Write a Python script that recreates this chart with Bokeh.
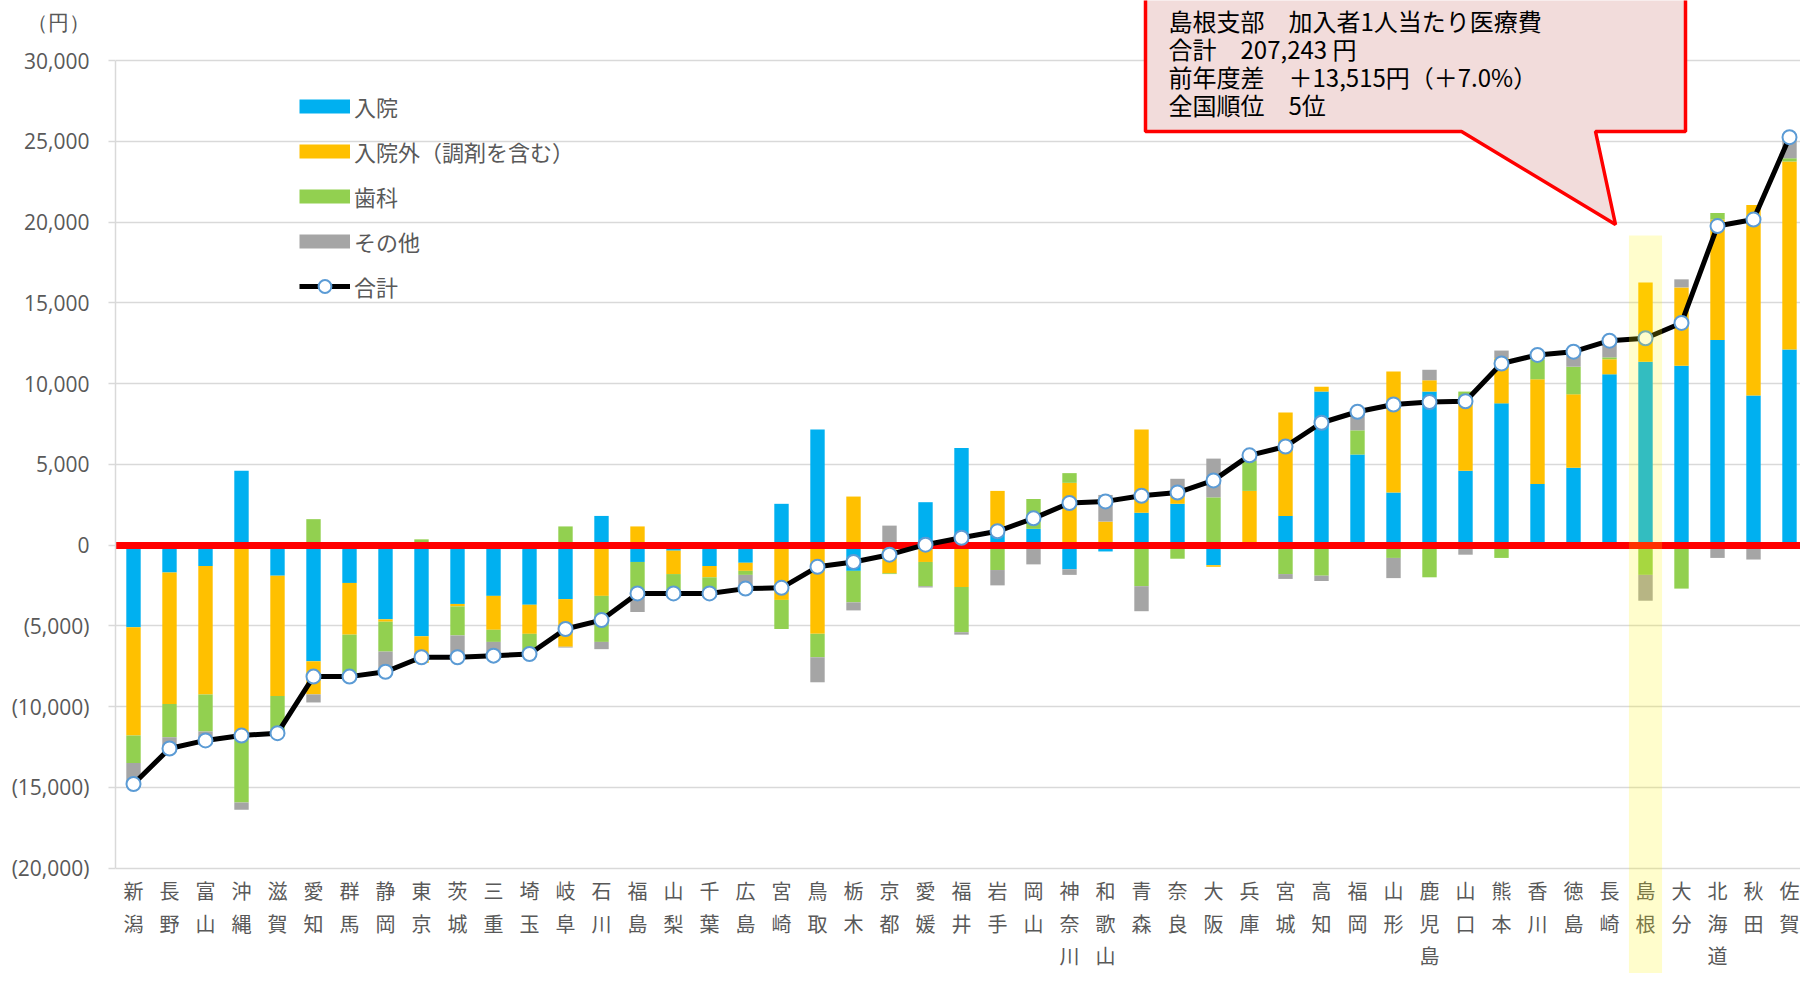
import numpy as np
from bokeh.plotting import figure
from bokeh.models import Range1d, FixedTicker, Legend, LegendItem, LinearAxis, Grid
from bokeh.core.properties import value
from bokeh.embed import file_html
from bokeh.resources import INLINE

# ---------------- data ----------------
prefectures = ["新潟", "長野", "富山", "沖縄", "滋賀", "愛知", "群馬", "静岡", "東京", "茨城",
               "三重", "埼玉", "岐阜", "石川", "福島", "山梨", "千葉", "広島", "宮崎", "鳥取",
               "栃木", "京都", "愛媛", "福井", "岩手", "岡山", "神奈川", "和歌山", "青森", "奈良",
               "大阪", "兵庫", "宮城", "高知", "福岡", "山形", "鹿児島", "山口", "熊本", "香川",
               "徳島", "長崎", "島根", "大分", "北海道", "秋田", "佐賀"]

inpatient = [-5100, -1700, -1300, 4600, -1900, -7200, -2350, -4600, -5650, -3650,
             -3150, -3700, -3350, 1800, -1050, -350, -1300, -1100, 2550, 7150,
             -1600, 0, 2650, 6000, 700, 1000, -1500, -400, 2000, 2550,
             -1250, 0, 1800, 9500, 5600, 3250, 9500, 4600, 8770, 3780,
             4790, 10570, 11350, 11100, 12700, 9250, 12100]
outpatient = [-6700, -8150, -7950, -12050, -7450, -2050, -3200, -150, -1650, -150,
              -2100, -1800, -2950, -3150, 1150, -1450, -700, -500, -3400, -5500,
              3000, -1750, -1050, -2600, 2650, 0, 3850, 1450, 5150, 950,
              -100, 3350, 6400, 300, -100, 7500, 700, 4400, 2800, 6480,
              4540, 930, 4900, 4850, 7450, 11800, 11650]
dental = [-1700, -2050, -2300, -3900, -2200, 1600, -2400, -1850, 350, -1800,
          -750, -1050, 1150, -2850, -1950, -1000, -750, -250, -1800, -1450,
          -1950, -50, -1500, -2800, -1550, 1850, 600, 0, -2550, -850,
          2950, 1850, -1800, -1900, 1500, -800, -2000, 500, -800, 1240,
          1710, 120, -1850, -2700, 400, 0, 200]
other = [-1300, -700, -550, -450, -100, -500, -200, -1250, 0, -1350,
         -850, -200, -50, -450, -1150, -200, -250, -850, 0, -1550,
         -500, 1200, -80, -150, -950, -1200, -350, 1650, -1550, 600,
         2400, 350, -300, -330, 1250, -1250, 650, -600, 470, 270,
         930, 1030, -1600, 500, -800, -900, 1300]

y_ticks = [-20000, -15000, -10000, -5000, 0, 5000, 10000, 15000, 20000, 25000, 30000]
y_tick_labels = ["(20,000)", "(15,000)", "(10,000)", "(5,000)", "0", "5,000",
                 "10,000", "15,000", "20,000", "25,000", "30,000"]
series_names = ["入院", "入院外（調剤を含む）", "歯科", "その他"]
total_name = "合計"
unit_label = "（円）"
highlight_pref = "島根"
callout_lines = ["島根支部　加入者1人当たり医療費",
                 "合計　207,243 円",
                 "前年度差　＋13,515円（＋7.0%）",
                 "全国順位　5位"]

# ---------------- layout helpers (picture pixel -> data) ----------------
W, H = 1800, 973
LEFT_PX = 115.0
ZERO_PX = 544.5
PX_PER_YEN = 80.75 / 5000.0
PITCH = 36.0


def y_at(py):
    return (ZERO_PX - py) / PX_PER_YEN


def x_at(px):
    return -0.5 + (px - LEFT_PX) / PITCH


x_range = Range1d(-0.5, x_at(W))
y_range = Range1d(y_at(H), y_at(0))

p = figure(width=W, height=H, x_range=x_range, y_range=y_range,
           output_backend="svg", toolbar_location=None,
           x_axis_location=None, y_axis_location=None,
           min_border_left=int(LEFT_PX), min_border_right=0,
           min_border_top=0, min_border_bottom=0)
p.outline_line_color = None
p.background_fill_color = "white"
p.border_fill_color = "white"
for g in p.grid:
    g.visible = False

# inner axis: line + ticks only
ax_line = LinearAxis(ticker=FixedTicker(ticks=y_ticks), bounds=(min(y_ticks), max(y_ticks)),
                     major_label_overrides={t: "" for t in y_ticks},
                     major_label_standoff=0, major_label_text_alpha=0,
                     axis_line_color="#D9D9D9", axis_line_width=1.5,
                     major_tick_line_color="#D9D9D9", major_tick_line_width=1.5,
                     major_tick_out=7, major_tick_in=0, minor_tick_line_color=None)
p.add_layout(ax_line, "left")

# outer axis: tick labels (incl. unit)
unit_tick = y_at(21)
lab_ticks = y_ticks + [unit_tick]
lab_over = {t: l for t, l in zip(y_ticks, y_tick_labels)}
lab_over[unit_tick] = unit_label
ax_lab = LinearAxis(ticker=FixedTicker(ticks=lab_ticks), major_label_overrides=lab_over,
                    axis_line_color=None, major_tick_line_color=None,
                    minor_tick_line_color=None, major_tick_out=0, major_tick_in=0,
                    major_label_standoff=19, major_label_text_font="Open Sans",
                    major_label_text_font_size="21px", major_label_text_color="#595959")
p.add_layout(ax_lab, "left")

p.add_layout(Grid(dimension=1, ticker=FixedTicker(ticks=y_ticks),
                  grid_line_color="#D9D9D9", grid_line_width=1.5))

# ---------------- stacked bars ----------------
n = len(prefectures)
xs = np.arange(n)
colors = ["#00B0F0", "#FFC000", "#92D050", "#A5A5A5"]
pos = np.zeros(n)
neg = np.zeros(n)
legend_swatches = []
for vals, col in zip([inpatient, outpatient, dental, other], colors):
    v = np.array(vals, dtype=float)
    bottom = np.where(v >= 0, pos, neg + v)
    top = np.where(v >= 0, pos + v, neg)
    pos = pos + np.where(v >= 0, v, 0)
    neg = neg + np.where(v < 0, v, 0)
    p.vbar(x=xs, width=0.4, bottom=bottom, top=top,
           fill_color=col, line_color=None)
    # legend swatch: thick line glyph with a single NaN point (draws nothing in plot)
    legend_swatches.append(p.line(x=[np.nan], y=[np.nan], line_color=col, line_width=14))

# zero line
p.hspan(y=[0], line_color="#FF0000", line_width=7)

# total line
total = np.array(inpatient) + np.array(outpatient) + np.array(dental) + np.array(other)
r_line = p.line(xs, total, line_color="black", line_width=5)
r_pts = p.scatter(xs, total, size=14, marker="circle", fill_color="white",
                  line_color="#5B9BD5", line_width=2)

# category labels (vertical, one character per row)
row_py = [890, 923, 955]
for k, py in enumerate(row_py):
    chars = [name[k] if len(name) > k else "" for name in prefectures]
    p.text(x=xs, y=[y_at(py)] * n, text=chars, text_align="center",
           text_baseline="middle", text_font=value("Noto Sans CJK JP"),
           text_font_size="20px", text_color="#595959")

# highlight band for Shimane
hi = prefectures.index(highlight_pref)
p.vbar(x=[hi], width=0.92, top=[y_at(235)], bottom=[y_range.start],
       fill_color="#FFF600", fill_alpha=0.2, line_color=None)

# callout box
box_px = [(1145, -20), (1685, -20), (1685, 131), (1595, 131), (1615, 224),
          (1461, 131), (1145, 131)]
p.patch([x_at(a) for a, b in box_px], [y_at(b) for a, b in box_px],
        fill_color="#F2DCDB", line_color="#FF0000", line_width=3.5)
line_py = [20, 48, 76, 104]
p.text(x=[x_at(1168)] * 4, y=[y_at(v) for v in line_py], text=callout_lines,
       text_align="left", text_baseline="middle",
       text_font=value("Noto Sans CJK JP"), text_font_size="24px",
       text_color="#000000")

# legend
items = [LegendItem(label=nm, renderers=[r]) for nm, r in zip(series_names, legend_swatches)]
items.append(LegendItem(label=total_name, renderers=[r_line, r_pts]))
legend = Legend(items=items, location=(184, 671), orientation="vertical",
                glyph_width=51, glyph_height=32, label_standoff=4,
                spacing=13, padding=0, margin=0, label_height=28,
                border_line_color=None, background_fill_alpha=0,
                label_text_font="Noto Sans CJK JP", label_text_font_size="22px",
                label_text_color="#595959")
p.add_layout(legend)

open("out.html", "w").write(file_html(p, INLINE))
